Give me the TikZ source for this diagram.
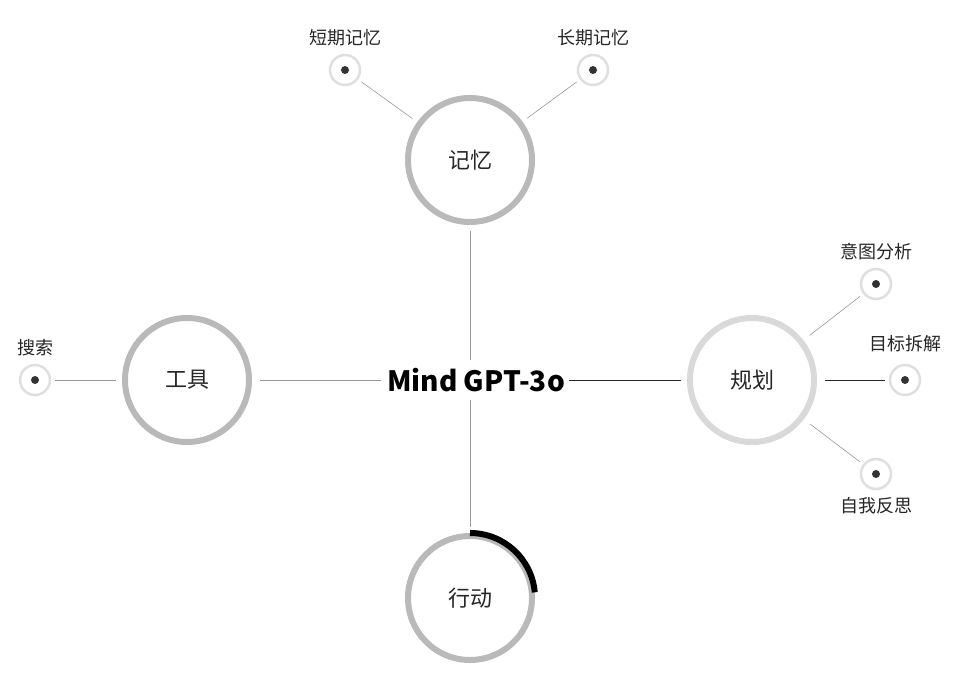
\documentclass[tikz,border=0pt]{standalone}
\usepackage{fontspec}
\setmainfont{Noto Sans CJK SC}
\usetikzlibrary{positioning}
\begin{document}
\begin{tikzpicture}[x=1pt,y=-1pt, thin,
  hub/.style={circle,draw=gray!55,line width=6pt,minimum size=124pt,font=\fontsize{22}{25}\selectfont,text=black!85},
  leaf/.style={circle,draw=gray!25,line width=2.5pt,fill=white,minimum size=30pt,inner sep=0pt},
  tag/.style={font=\fontsize{18}{21}\selectfont,text=black!85},
  link/.style={draw=gray!80,line width=0.6pt}]
	\useasboundingbox[fill=white] (0,0) rectangle (962,675);
	\node[font=\bfseries\fontsize{28}{32}\selectfont,inner sep=2pt] (M) at (476,380) {Mind GPT-3o};
	\node[hub] (mem) at (470,160) {记忆};
	\node[hub] (tool) at (187,380) {工具};
	\node[hub,draw=gray!30] (plan) at (752,380) {规划};
	\node[hub] (act) at (470,598) {行动};
	\draw[line width=6pt,black] (act.center) ++(-90:65) arc[start angle=-90,end angle=-5,radius=65];
	\foreach \n/\x/\y in {stm/345/70, ltm/593/70, srch/35/380, intent/876/284, goal/905/380, refl/876/474}
		\node[leaf] (\n) at (\x,\y) {};
	\foreach \n in {stm,ltm,srch,intent,goal,refl}
		\fill[black!80] (\n.center) circle (4pt);
	\node[tag] (stm_t) [above=4pt of stm] {短期记忆};
	\node[tag] (ltm_t) [above=4pt of ltm] {长期记忆};
	\node[tag] (srch_t) [above=4pt of srch] {搜索};
	\node[tag] (intent_t) [above=4pt of intent] {意图分析};
	\node[tag] (goal_t) [above=8pt of goal] {目标拆解};
	\node[tag] (refl_t) [below=4pt of refl] {自我反思};
	\coordinate (Mtop) at (mem |- M.north);
	\coordinate (Mbot) at (act |- M.south);
	\draw[link,shorten <=6pt,shorten >=6pt] (Mtop) to (mem);
	\draw[link,shorten <=6pt,shorten >=6pt] (Mbot) to (act);
	\draw[link,shorten <=4pt,shorten >=8pt] (M) to (tool);
	\draw[link,draw=black!85,shorten <=2pt,shorten >=6pt] (M) to (plan);
	\draw[link,shorten <=4pt,shorten >=6pt] (stm) to (mem);
	\draw[link,shorten <=4pt,shorten >=6pt] (ltm) to (mem);
	\draw[link,shorten <=4pt,shorten >=6pt] (srch) to (tool);
	\draw[link,shorten <=4pt,shorten >=8pt] (intent) to (plan);
	\draw[link,draw=black!85,shorten <=4pt,shorten >=8pt] (goal) to (plan);
	\draw[link,shorten <=4pt,shorten >=8pt] (refl) to (plan);
\end{tikzpicture}
\end{document}
